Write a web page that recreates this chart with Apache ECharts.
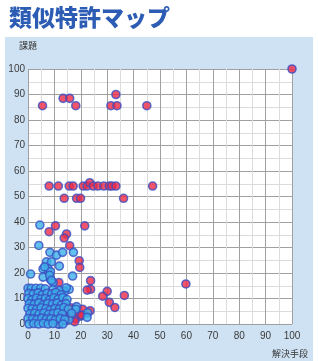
<!DOCTYPE html>
<html>
<head>
<meta charset="utf-8">
<script src="https://cdn.jsdelivr.net/npm/echarts@6/dist/echarts.min.js"></script>
<style>
  html, body { margin: 0; padding: 0; background: #fff; }
  #wrap { position: relative; width: 318px; height: 361px; }
  #panel { position: absolute; left: 5px; top: 37px; width: 308px; height: 324px; background: #cfe2f3; }
  #chart { position: absolute; left: 0; top: 0; width: 318px; height: 361px; }
</style>
</head>
<body>
<div id="wrap">
  <div id="panel"></div>
  <div id="chart"></div>
</div>
<script>
// axis ticks
const xTicks = [0, 10, 20, 30, 40, 50, 60, 70, 80, 90, 100];
const yTicks = [0, 10, 20, 30, 40, 50, 60, 70, 80, 90, 100];

// red points (x = 解決手段, y = 課題)
const redPoints = [
  [5.5, 85.6], [13.3, 88.5], [15.8, 88.5], [18.1, 85.6], [31.4, 85.6], [33.7, 85.6], [33.3, 90], [45, 85.6], [100, 100],
  [8, 54.1], [11.5, 54.1], [15.6, 54.1], [17.1, 54.1], [20.9, 54.1], [22.4, 54.1], [23.4, 55.4], [24.7, 54.1],
  [26.5, 54.1], [28.7, 54.1], [30.8, 54.1], [31.8, 54.1], [33.3, 54.1], [47.2, 54.1],
  [13.7, 49.3], [18.4, 49.3], [19.9, 49.3], [36.2, 49.3],
  [10.4, 38.5], [21.5, 38.5], [8, 36.2], [14.6, 35.3], [13.7, 33.7], [15.8, 30.7],
  [19.4, 24.8], [19.6, 22.2], [23.7, 17], [23.7, 13.6], [22.4, 13.3], [30, 12.8], [28.3, 10.9],
  [36.5, 11.2], [30.8, 8.5], [32.9, 6.5], [23.5, 5.2], [59.8, 15.7], [11.7, 16.3],
  [14, 5.8], [16.2, 6.4], [20.7, 5.8], [20, 3.1], [18.1, 2.1], [14.3, 1.2], [12.4, 2.5], [17.7, 0.9],
  [15.2, 2.6], [8.9, 6.2], [11.8, 0], [18.2, 4.6], [20.3, 3.5], [8.9, 11.2], [6, 10], [10, 7], [3, 4], [7, 3]
];

// light blue points
const bluePoints = [
  [4.5, 38.8], [4.1, 30.8], [8.3, 28.1], [10.8, 27], [13.1, 28.1], [17.2, 28.1], [7, 24.4], [8.9, 24.4],
  [5.7, 21.6], [7.6, 21.6], [8.5, 20.5], [11.9, 22.7], [16.9, 18.8], [1, 19.6], [8.5, 17.5], [9.5, 16.2],
  [6.3, 22.4], [5.7, 18.4], [8.2, 19.1], [8.9, 17.1], [13.3, 12.9], [15.6, 13.6], [13.9, 12.7],
  [18.4, 6.8], [18.1, 5.8], [22.6, 4.4], [22.4, 2.6], [15.6, 1.8], [11.5, 0],
  [0, 14], [1.2, 14], [3, 14], [4.8, 14], [6.5, 13.8], [9.5, 13.5], [12, 13.2], [14.5, 14.2],
  [0.3, 12], [2, 11.8], [3.8, 12.2], [5.5, 11.5], [7.2, 12], [9, 11.8], [10.5, 12.4], [12.5, 11.5],
  [0, 10], [1.5, 9.5], [3.2, 10.2], [4.9, 9.8], [6.6, 10], [8.2, 9.5], [9.8, 10.3], [11.5, 9.8], [13.2, 10.4], [14.8, 9.6],
  [0.5, 8], [2.4, 7.8], [4.1, 8.3], [5.8, 7.6], [7.5, 8.1], [9.3, 7.9], [11, 8.2], [12.7, 7.5], [14.4, 8],
  [0, 6.2], [1.6, 6], [3.3, 5.8], [5, 6.4], [6.8, 6], [8.5, 5.6], [10.2, 6.1], [11.9, 5.9], [13.6, 6.5], [15.3, 5.9],
  [0.7, 4], [2.5, 4.2], [4.2, 3.9], [6, 4.3], [7.8, 3.8], [9.6, 4.1], [11.3, 4.4], [13, 3.9], [16.5, 4.2],
  [0, 2.2], [1.7, 2], [3.4, 1.8], [5.2, 2.3], [6.9, 1.9], [8.7, 2.1], [10.4, 1.7], [12.2, 2.2], [13.9, 1.8],
  [0.4, 0], [2.2, 0.2], [4, 0], [5.8, 0.3], [7.6, 0], [9.4, 0.2], [13.2, 0]
];

let chart = echarts.init(document.getElementById('chart'), null, {renderer: 'canvas'});

function axisTemplate(ticks) {
  return {
    type: 'value',
    min: ticks[0],
    max: ticks[ticks.length - 1],
    interval: ticks[1] - ticks[0],
    axisLine: {show: false},
    axisTick: {show: false},
    minorTick: {show: false, splitNumber: 2},
    splitLine: {show: true, lineStyle: {color: '#a0a0a0', width: 1}},
    minorSplitLine: {show: true, lineStyle: {color: '#dcdcdc', width: 1}},
    axisLabel: {color: '#3a3a3a', fontSize: 10, fontFamily: 'Liberation Sans'}
  };
}

let xAxis = axisTemplate(xTicks);
xAxis.axisLabel.margin = 7;
let yAxis = axisTemplate(yTicks);
yAxis.axisLabel.margin = 3;

const markerStyle = {borderColor: '#3a4fc2', borderWidth: 1.6};

let option = {
  animation: false,
  grid: {
    left: 28, right: 26, top: 69, bottom: 37,
    show: true, backgroundColor: '#fff', borderWidth: 0
  },
  xAxis: xAxis,
  yAxis: yAxis,
  graphic: [
    {
      type: 'text', left: 9, top: 6,
      style: {text: '類似特許マップ', fill: '#2c5cb3', font: '900 23px "Noto Sans CJK JP"'}
    },
    {
      type: 'text', left: 19, top: 41,
      style: {text: '課題', fill: '#333', font: '9px "Noto Sans CJK JP"'}
    },
    {
      type: 'text', left: 272, top: 349,
      style: {text: '解決手段', fill: '#333', font: '9px "Noto Sans CJK JP"'}
    }
  ],
  series: [
    {
      name: 'red',
      type: 'scatter',
      data: redPoints,
      symbolSize: 8,
      itemStyle: Object.assign({color: '#ee2a47'}, markerStyle)
    },
    {
      name: 'blue',
      type: 'scatter',
      data: bluePoints,
      symbolSize: 8,
      itemStyle: Object.assign({color: '#3db0ea'}, markerStyle)
    }
  ]
};

chart.setOption(option);
</script>
</body>
</html>
